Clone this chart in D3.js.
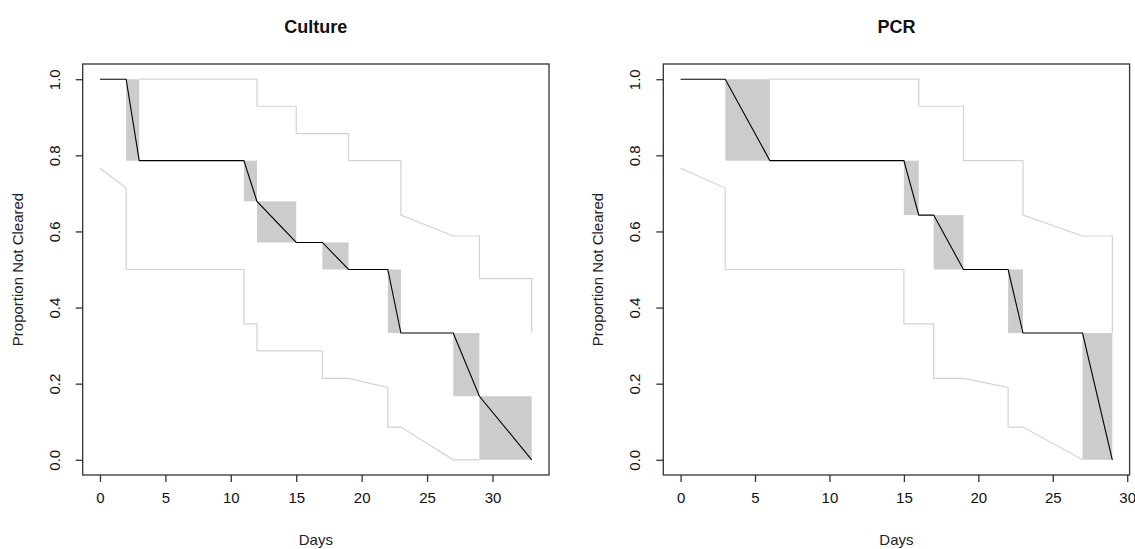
<html>
<head>
<script src="https://cdn.jsdelivr.net/npm/d3@7"></script>
<style>
    body {
        margin: 0;
        background: white;
        font-family: "Liberation Sans", Arial, Helvetica, sans-serif;
    }
    svg {
        display: block;
    }
</style>
</head>
<body>
<svg id="chart" width="1135" height="549"></svg>
<script>
    // Culture panel
    let cultureDays = [0, 2, 3, 11, 12, 15, 17, 19, 22, 23, 27, 29, 33]
    let cultureSurv = [1, 1, 0.786, 0.786, 0.679, 0.571, 0.571, 0.5, 0.5, 0.333, 0.333, 0.167, 0]
    let cultureUpperDays = [3, 12, 12, 15, 15, 19, 19, 23, 23, 27, 29, 29, 33, 33]
    let cultureUpper = [1, 1, 0.929, 0.929, 0.857, 0.857, 0.786, 0.786, 0.643, 0.588, 0.588, 0.476, 0.476, 0.333]
    let cultureLowerDays = [0, 2, 2, 11, 11, 12, 12, 17, 17, 19, 22, 22, 23, 27, 29]
    let cultureLower = [0.766, 0.714, 0.5, 0.5, 0.357, 0.357, 0.286, 0.286, 0.214, 0.214, 0.19, 0.086, 0.086, 0, 0]

    // PCR panel
    let pcrDays = [0, 3, 6, 15, 16, 17, 19, 22, 23, 27, 29]
    let pcrSurv = [1, 1, 0.786, 0.786, 0.643, 0.643, 0.5, 0.5, 0.333, 0.333, 0]
    let pcrUpperDays = [6, 16, 16, 19, 19, 23, 23, 27, 29, 29]
    let pcrUpper = [1, 1, 0.929, 0.929, 0.786, 0.786, 0.643, 0.588, 0.588, 0.333]
    let pcrLowerDays = [0, 3, 3, 15, 15, 17, 17, 19, 22, 22, 23, 27]
    let pcrLower = [0.766, 0.714, 0.5, 0.5, 0.357, 0.357, 0.214, 0.214, 0.19, 0.086, 0.086, 0]

    let xTicks = [0, 5, 10, 15, 20, 25, 30]
    let yTicks = [0, 0.2, 0.4, 0.6, 0.8, 1.0]

    let panels = [
        { title: "Culture", left: 82.7, days: cultureDays, surv: cultureSurv,
          upDays: cultureUpperDays, up: cultureUpper, loDays: cultureLowerDays, lo: cultureLower },
        { title: "PCR", left: 663.3, days: pcrDays, surv: pcrSurv,
          upDays: pcrUpperDays, up: pcrUpper, loDays: pcrLowerDays, lo: pcrLower }
    ]

    function getChartConfig(panel) {
        let boxWidth = 466.3
        let top = 64
        let bottom = 475
        let container = d3.select("#chart").append("g")
        return { left: panel.left, right: panel.left + boxWidth, top, bottom, container }
    }

    function getChartScales(panel, config) {
        // R style: extend the data range by 4% on each side
        let maxDay = d3.max(panel.days)
        let pad = maxDay * 0.04
        let xScale = d3.scaleLinear()
            .domain([-pad, maxDay + pad])
            .range([config.left, config.right])
        let yScale = d3.scaleLinear()
            .domain([-0.04, 1.04])
            .range([config.bottom, config.top])
        return { xScale, yScale }
    }

    function drawBands(panel, scales, config) {
        let { xScale, yScale } = scales
        let bands = []
        for (let i = 0; i < panel.days.length - 1; i++) {
            if (panel.surv[i + 1] < panel.surv[i]) {
                bands.push({ x0: panel.days[i], x1: panel.days[i + 1], y0: panel.surv[i + 1], y1: panel.surv[i] })
            }
        }
        config.container.selectAll(".band")
            .data(bands)
            .enter().append("rect")
            .attr("x", d => xScale(d.x0))
            .attr("width", d => xScale(d.x1) - xScale(d.x0))
            .attr("y", d => yScale(d.y1))
            .attr("height", d => yScale(d.y0) - yScale(d.y1))
            .attr("fill", "#cccccc")
    }

    function drawLines(panel, scales, config) {
        let { xScale, yScale } = scales
        let line = d3.line()
            .x(d => xScale(d[0]))
            .y(d => yScale(d[1]))

        let upper = panel.upDays.map((d, i) => [d, panel.up[i]])
        let lower = panel.loDays.map((d, i) => [d, panel.lo[i]])
        let km = panel.days.map((d, i) => [d, panel.surv[i]])

        config.container.append("path")
            .attr("d", line(upper))
            .attr("fill", "none")
            .attr("stroke", "#d3d3d3")
            .attr("stroke-width", 1.2)
        config.container.append("path")
            .attr("d", line(lower))
            .attr("fill", "none")
            .attr("stroke", "#d3d3d3")
            .attr("stroke-width", 1.2)
        config.container.append("path")
            .attr("d", line(km))
            .attr("fill", "none")
            .attr("stroke", "#000")
            .attr("stroke-width", 1.1)
    }

    function drawAxes(panel, scales, config) {
        let { xScale, yScale } = scales
        let { container, left, right, top, bottom } = config

        container.append("rect")
            .attr("x", left)
            .attr("y", top)
            .attr("width", right - left)
            .attr("height", bottom - top)
            .attr("fill", "none")
            .attr("stroke", "#333")
            .attr("stroke-width", 1.3)

        let axisX = d3.axisBottom(xScale)
            .tickValues(xTicks)
            .tickSize(7)
            .tickPadding(10)
            .tickFormat(d3.format("d"))
        let gx = container.append("g")
            .attr("transform", `translate(0,${bottom})`)
            .call(axisX)
        gx.select(".domain").remove()
        gx.selectAll("line").attr("stroke", "#333").attr("stroke-width", 1.3)
        gx.selectAll("text")
            .attr("font-size", 15)
            .attr("font-family", "Liberation Sans, Arial, sans-serif")
            .attr("fill", "#111")

        let axisY = d3.axisLeft(yScale)
            .tickValues(yTicks)
            .tickSize(7)
            .tickFormat(d3.format(".1f"))
        let gy = container.append("g")
            .attr("transform", `translate(${left},0)`)
            .call(axisY)
        gy.select(".domain").remove()
        gy.selectAll("line").attr("stroke", "#333").attr("stroke-width", 1.3)
        gy.selectAll("text")
            .attr("font-size", 15)
            .attr("font-family", "Liberation Sans, Arial, sans-serif")
            .attr("fill", "#111")
            .attr("text-anchor", "middle")
            .attr("x", null)
            .attr("dy", null)
            .attr("transform", "translate(-23,0) rotate(-90)")

        let cx = (left + right) / 2
        let cy = (top + bottom) / 2
        container.append("text")
            .attr("x", cx)
            .attr("y", 33)
            .attr("text-anchor", "middle")
            .attr("font-size", 18)
            .attr("font-weight", "bold")
            .attr("fill", "#111")
            .text(panel.title)

        container.append("text")
            .attr("x", cx)
            .attr("y", 545)
            .attr("text-anchor", "middle")
            .attr("font-size", 15)
            .attr("fill", "#222")
            .text("Days")

        container.append("text")
            .attr("transform", `translate(${left - 60},${cy}) rotate(-90)`)
            .attr("text-anchor", "middle")
            .attr("font-size", 15)
            .attr("fill", "#222")
            .text("Proportion Not Cleared")
    }

    function drawPanel(panel) {
        let config = getChartConfig(panel)
        let scales = getChartScales(panel, config)
        drawBands(panel, scales, config)
        drawLines(panel, scales, config)
        drawAxes(panel, scales, config)
    }

    panels.forEach(drawPanel)
</script>
</body>
</html>
